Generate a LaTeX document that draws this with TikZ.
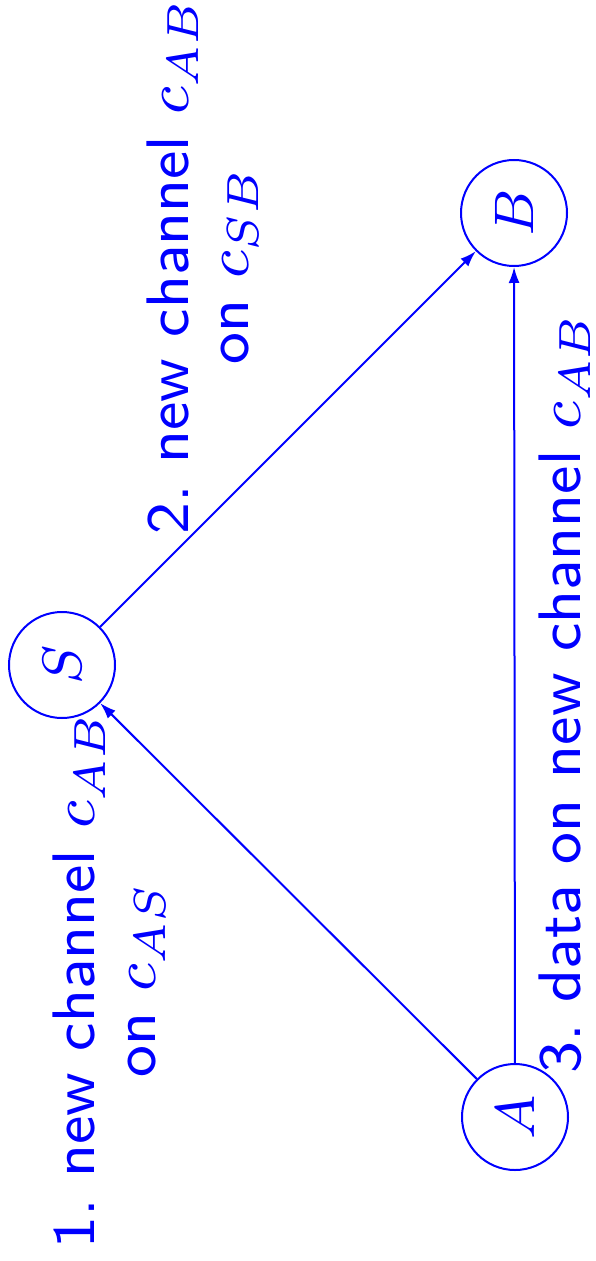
\documentclass[tikz,border=0pt]{standalone}
\usetikzlibrary{arrows.meta}
\newcommand\lbltext[1]{\scalebox{3.75}{\fontsize{8}{8}\selectfont\sffamily\begin{tabular}{@{}c@{}}#1\end{tabular}}}
\newcommand\statetext[1]{\scalebox{3.48}{\fontsize{8}{8}\selectfont$#1$}}
\begin{document}
\frenchspacing
\begin{tikzpicture}[x=0.5pt,y=-0.5pt,
  every node/.style={text=blue},
  state/.style={circle,draw=blue,line width=1pt,minimum size=53pt,inner sep=0pt,rotate=90},
  lbl/.style={rotate=90,inner sep=0pt},
  msg/.style={draw=blue,line width=1pt,-{Latex[length=8pt,width=5.5pt]}}]
\useasboundingbox (0,0) rectangle (595,1261);
\node[state] (A) at (515,1117) {\statetext{A}};
\node[state] (B) at (514,213) {\statetext{B}};
\node[state] (S) at (62,665) {\statetext{S}};
\draw[msg] (A) -- (S);
\draw[msg] (S) -- (B);
\draw[msg] (A) -- (B);
\node[lbl] (l1) at (113,980) {\lbltext{1. new channel $c_{AB}$\\ on $c_{AS}$}};
\node[lbl] (l2) at (206,266) {\lbltext{2. new channel $c_{AB}$\\ on $c_{SB}$}};
\node[lbl] (l3) at (568,693) {\lbltext{3. data on new channel $c_{AB}$}};
\end{tikzpicture}
\end{document}
